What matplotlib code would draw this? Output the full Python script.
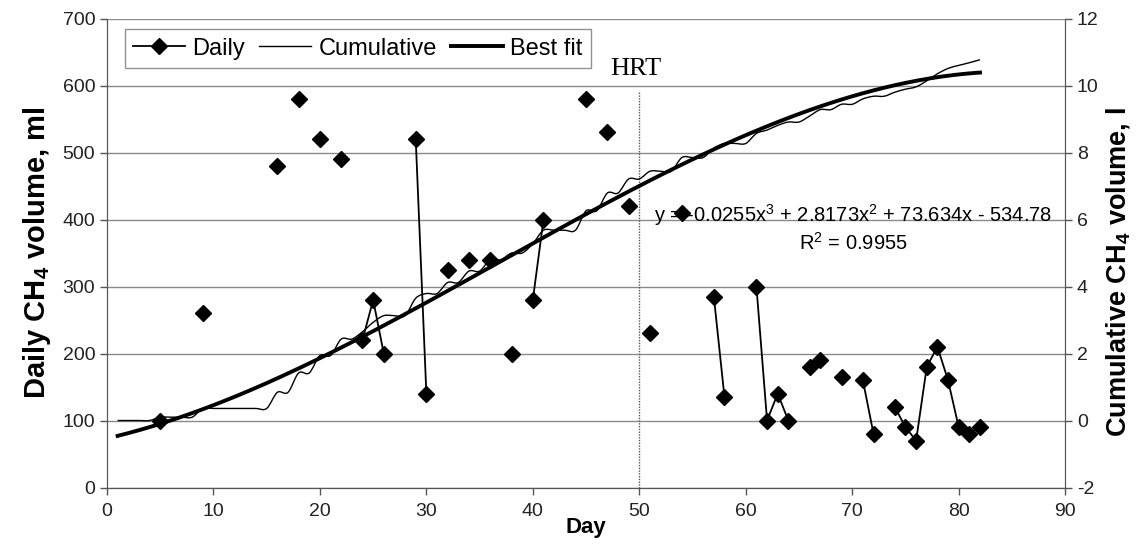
# Daily and cumulative CH4 production with best fit trendline
import numpy as np
import pandas as pd
import matplotlib
matplotlib.use('Agg')
import matplotlib.pyplot as plt
from matplotlib.path import Path
from matplotlib.patches import PathPatch
from matplotlib.lines import Line2D

plt.rcParams['font.family'] = ['Liberation Sans', 'DejaVu Sans']
plt.rcParams['mathtext.fontset'] = 'custom'
plt.rcParams['mathtext.rm'] = 'Liberation Sans'
plt.rcParams['mathtext.it'] = 'Liberation Sans:italic'
plt.rcParams['mathtext.bf'] = 'Liberation Sans:bold'
plt.rcParams['axes.unicode_minus'] = False

# daily CH4 (ml), only the days that were measured
daily_days = [5, 9, 16, 18, 20, 22, 24, 25, 26, 29, 30, 32, 34, 36, 38, 40, 41,
              45, 47, 49, 51, 54, 57, 58, 61, 62, 63, 64, 66, 67, 69, 71, 72,
              74, 75, 76, 77, 78, 79, 80, 81, 82]
daily_ml = [100, 260, 480, 580, 520, 490, 220, 280, 200, 520, 140, 325, 340, 340,
            200, 280, 400, 580, 530, 420, 230, 410, 285, 135, 300, 100, 140, 100,
            180, 190, 165, 160, 80, 120, 90, 70, 180, 210, 160, 90, 80, 90]

# cumulative CH4 (l), days 1..82
cum_days = list(range(1, 83))
cum_l = [0, 0, 0, 0, 0.10, 0.10, 0.10, 0.10, 0.36, 0.36,
         0.36, 0.36, 0.36, 0.36, 0.36, 0.84, 0.84, 1.42, 1.42, 1.94,
         1.94, 2.43, 2.43, 2.65, 2.93, 3.13, 3.13, 3.13, 3.65, 3.79,
         3.79, 4.12, 4.12, 4.46, 4.46, 4.80, 4.80, 5.00, 5.00, 5.28,
         5.68, 5.68, 5.68, 5.68, 6.26, 6.26, 6.79, 6.79, 7.21, 7.21,
         7.44, 7.44, 7.44, 7.85, 7.85, 7.85, 8.13, 8.27, 8.27, 8.27,
         8.57, 8.67, 8.81, 8.91, 8.91, 9.09, 9.28, 9.28, 9.44, 9.44,
         9.60, 9.68, 9.68, 9.80, 9.89, 9.96, 10.14, 10.35, 10.51, 10.60,
         10.68, 10.77]

# trendline from the chart (ml), drawn over days 1..82
fit_coef = [-0.0255, 2.8173, 73.634, -534.78]
fit_range = (1, 82)
hrt_day = 50

fig = plt.figure(figsize=(11.38, 5.54), dpi=100)
ax = fig.add_axes([0.094, 0.12, 0.842, 0.8466])
ax2 = ax.twinx()

# daily series: gaps where a day is missing
daily = pd.Series(daily_ml, index=daily_days).reindex(range(1, 83))
ax.plot(daily.index, daily.values, color='black', lw=1.3, marker='D', ms=8.5,
        zorder=3)

# HRT marker line
ax.vlines(hrt_day, 0, 590, colors='#555555', linestyles=(0, (1, 1)), lw=1)
ax.text(hrt_day - 0.3, 624, 'HRT', family='Liberation Serif', fontsize=19,
        ha='center', va='center')

# cumulative: smoothed line through the points (Excel style)
px = np.array(cum_days, dtype=float)
py = np.array(cum_l, dtype=float)
verts = [(px[0], py[0])]
codes = [Path.MOVETO]
n = len(px)
for i in range(n - 1):
    p0 = np.array([px[max(i - 1, 0)], py[max(i - 1, 0)]])
    p1 = np.array([px[i], py[i]])
    p2 = np.array([px[i + 1], py[i + 1]])
    p3 = np.array([px[min(i + 2, n - 1)], py[min(i + 2, n - 1)]])
    c1 = p1 + (p2 - p0) / 6
    c2 = p2 - (p3 - p1) / 6
    verts += [tuple(c1), tuple(c2), tuple(p2)]
    codes += [Path.CURVE4] * 3
ax2.add_patch(PathPatch(Path(verts, codes), fill=False, edgecolor='black',
                        lw=1.0, zorder=3))

# best fit
xf = np.linspace(fit_range[0], fit_range[1], 300)
ax2.plot(xf, np.polyval(fit_coef, xf) / 1000, color='black', lw=2.8, zorder=4)

ax.text(70.1, 387, 'y = -0.0255x$^3$ + 2.8173x$^2$ + 73.634x - 534.78\nR$^2$ = 0.9955',
        fontsize=14.5, ha='center', va='center', linespacing=1.2, zorder=5)

# axes
ax.set_xlim(0, 90)
ax.set_ylim(0, 700)
ax2.set_ylim(-2, 12)
ax.set_xticks(range(0, 91, 10))
ax.set_yticks(range(0, 701, 100))
ax2.set_yticks(range(-2, 13, 2))
ax.yaxis.grid(True, color='#8a8a8a', lw=1)
ax.set_axisbelow(True)

for a in (ax, ax2):
    a.tick_params(labelsize=14, length=5, width=1, color='#555555',
                  labelcolor='#222222')
    a.spines['top'].set_visible(False)
    for s in ('left', 'right', 'bottom'):
        a.spines[s].set_color('#555555')
ax.tick_params(axis='x', pad=6)

ax.set_xlabel('Day', fontsize=16, fontweight='bold', labelpad=-2)
ax.set_ylabel(r'Daily CH$_\mathbf{4}$ volume, ml', fontsize=21, fontweight='bold',
              labelpad=7)
ax2.set_ylabel(r'Cumulative CH$_\mathbf{4}$ volume, l', fontsize=19.5,
               fontweight='bold', labelpad=4)
ax2.yaxis.label.set_y(0.46)

handles = [Line2D([], [], color='black', lw=1.3, marker='D', ms=8.5),
           Line2D([], [], color='black', lw=1.0),
           Line2D([], [], color='black', lw=2.8)]
leg = ax2.legend(handles, ['Daily', 'Cumulative', 'Best fit'], ncol=3,
                 loc='upper left', bbox_to_anchor=(0.019, 0.977), fontsize=17,
                 frameon=True, fancybox=False, edgecolor='#777777',
                 handlelength=2.2, handletextpad=0.3, columnspacing=0.6,
                 borderpad=0.35, borderaxespad=0)
leg.get_frame().set_linewidth(1)

fig.savefig('out.png', dpi=100)
